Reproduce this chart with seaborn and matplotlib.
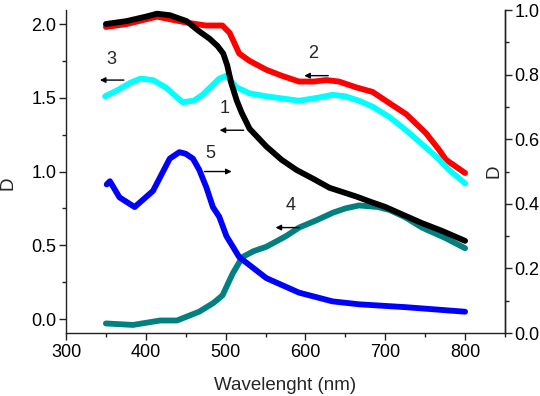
import numpy as np
import matplotlib
matplotlib.use("Agg")
import matplotlib.pyplot as plt
import seaborn as sns
from matplotlib.ticker import MultipleLocator

sns.set_style("ticks")
plt.rcParams['font.family'] = ['Liberation Sans', 'DejaVu Sans']

# curve 1 (black), left axis
wl_1 = [350, 376, 400, 414, 430, 451, 467, 480, 490, 497, 502, 507, 514, 520, 530,
        551, 570, 589, 610, 630, 664, 684, 700, 725, 746, 770, 800]
d_1 = [2.00, 2.02, 2.05, 2.07, 2.06, 2.02, 1.95, 1.90, 1.85, 1.80, 1.72, 1.60, 1.48, 1.40, 1.29,
       1.17, 1.08, 1.01, 0.95, 0.89, 0.83, 0.79, 0.76, 0.70, 0.65, 0.60, 0.53]

# curve 2 (red), left axis
wl_2 = [350, 376, 414, 451, 475, 496, 505, 517, 530, 551, 570, 592, 610, 626, 642,
        664, 684, 709, 726, 751, 767, 776, 800]
d_2 = [1.98, 2.00, 2.05, 2.01, 1.99, 1.99, 1.94, 1.80, 1.75, 1.69, 1.65, 1.61, 1.61, 1.62, 1.61,
       1.57, 1.54, 1.45, 1.39, 1.26, 1.15, 1.08, 0.99]

# curve 3 (cyan), left axis
wl_3 = [349, 364, 380, 393, 409, 425, 446, 460, 471, 492, 501, 514, 530, 551, 592,
        615, 634, 650, 667, 684, 705, 726, 764, 780, 800]
d_3 = [1.51, 1.55, 1.60, 1.63, 1.62, 1.57, 1.47, 1.48, 1.52, 1.63, 1.65, 1.57, 1.53, 1.51, 1.48,
       1.50, 1.52, 1.51, 1.48, 1.44, 1.37, 1.28, 1.10, 1.01, 0.92]

# curve 4 (teal), left axis
wl_4 = [350, 384, 418, 439, 467, 485, 496, 509, 521, 535, 551, 575, 592, 614, 634,
        650, 667, 690, 705, 725, 746, 775, 800]
d_4 = [-0.03, -0.04, -0.01, -0.01, 0.05, 0.11, 0.16, 0.31, 0.42, 0.46, 0.49, 0.56, 0.62, 0.67, 0.72,
       0.75, 0.77, 0.76, 0.74, 0.69, 0.62, 0.55, 0.48]

# curve 5 (blue), right axis
wl_5 = [351, 355, 367, 386, 409, 430, 442, 450, 459, 467, 476, 484, 492, 501, 517,
        551, 592, 634, 667, 726, 800]
d_5 = [0.46, 0.47, 0.42, 0.39, 0.44, 0.54, 0.56, 0.555, 0.54, 0.505, 0.45, 0.39, 0.36, 0.30, 0.235,
       0.17, 0.125, 0.098, 0.089, 0.08, 0.066]

# curve labels: text position, arrow tail, arrow tip (left-axis units)
labels = ['1', '2', '3', '4', '5']
label_xy = [(499, 1.43), (609, 1.80), (357, 1.76), (582, 0.77), (481, 1.125)]
arrow_from = [(526, 1.28), (632, 1.65), (376, 1.62), (596, 0.62), (470, 1.0)]
arrow_to = [(489, 1.28), (595, 1.65), (339, 1.62), (559, 0.62), (511, 1.0)]

FS_TICK = 13
FS_LABEL = 13.5

fig = plt.figure(figsize=(5.4, 3.96), dpi=100)
ax = fig.add_axes([0.1222, 0.159, 0.813, 0.8157])
ax2 = ax.twinx()

LW = 4.2
sns.lineplot(x=wl_2, y=d_2, ax=ax, color='#ff0000', lw=LW, sort=False)
sns.lineplot(x=wl_3, y=d_3, ax=ax, color='#00ffff', lw=LW, sort=False)
sns.lineplot(x=wl_4, y=d_4, ax=ax, color='#008080', lw=LW, sort=False)
sns.lineplot(x=wl_1, y=d_1, ax=ax, color='#000000', lw=LW, sort=False)
sns.lineplot(x=wl_5, y=d_5, ax=ax2, color='#0000ff', lw=LW, sort=False)

for lab, pos, a0, a1 in zip(labels, label_xy, arrow_from, arrow_to):
    ax.text(pos[0], pos[1], lab, fontsize=FS_TICK, ha='center', va='center')
    ax.annotate('', xy=a1, xytext=a0,
                arrowprops=dict(arrowstyle='-|>', color='black', lw=1, mutation_scale=8))

ax.set_xlim(300, 850)
ax.set_ylim(-0.095, 2.095)
ax2.set_ylim(0, 1.0)

ax.xaxis.set_major_locator(MultipleLocator(100))
ax.xaxis.set_minor_locator(MultipleLocator(50))
ax.yaxis.set_major_locator(MultipleLocator(0.5))
ax.yaxis.set_minor_locator(MultipleLocator(0.25))
ax2.yaxis.set_major_locator(MultipleLocator(0.2))
ax2.yaxis.set_minor_locator(MultipleLocator(0.1))
ax.yaxis.set_major_formatter(plt.FormatStrFormatter('%.1f'))
ax2.yaxis.set_major_formatter(plt.FormatStrFormatter('%.1f'))

for a in (ax, ax2):
    a.spines['top'].set_visible(False)
    for s in a.spines.values():
        s.set_linewidth(1)
        s.set_color('#222222')
    a.tick_params(which='major', direction='out', length=5, width=1, labelsize=FS_TICK,
                  colors='#222222', labelcolor='black')
    a.tick_params(which='minor', direction='out', length=3, width=1, colors='#222222')
ax.tick_params(axis='y', pad=2)
ax.tick_params(axis='x', pad=3)
ax2.tick_params(axis='y', pad=2)
ax2.spines['left'].set_visible(False)
ax2.spines['bottom'].set_visible(False)

ax.set_xlabel('Wavelenght (nm)', fontsize=FS_LABEL)
ax.xaxis.set_label_coords(0.5, -0.135)
ax.set_ylabel('D', fontsize=FS_LABEL)
ax.yaxis.set_label_coords(-0.112, 0.464)
ax2.set_ylabel('D', fontsize=FS_LABEL)
ax2.yaxis.set_label_coords(0.956, 0.5)

fig.savefig('out.png', dpi=100)
